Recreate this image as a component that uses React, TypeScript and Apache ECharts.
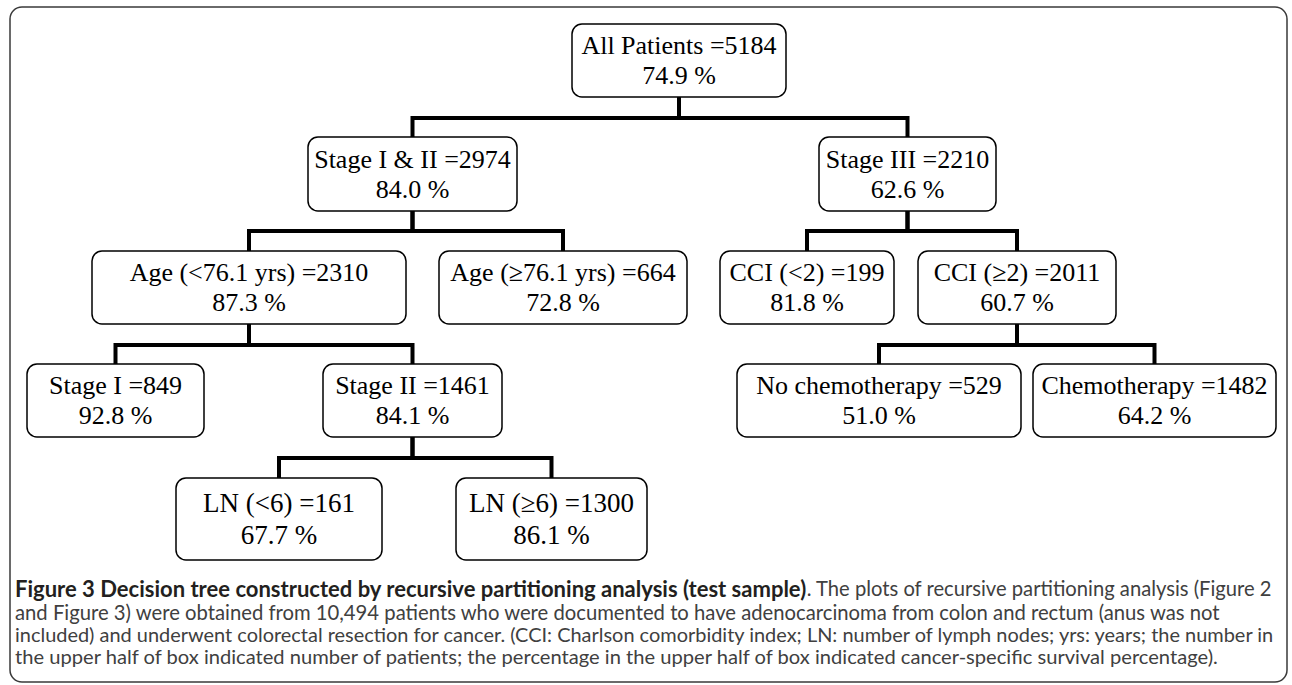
import React, { useEffect, useRef } from "react";
import * as echarts from "echarts";

// ---- data ----
const nodeNames = [
  "All Patients",
  "Stage I & II",
  "Stage III",
  "Age (<76.1 yrs)",
  "Age (≥76.1 yrs)",
  "CCI (<2)",
  "CCI (≥2)",
  "Stage I",
  "Stage II",
  "No chemotherapy",
  "Chemotherapy",
  "LN (<6)",
  "LN (≥6)",
];
const patientCounts = [5184, 2974, 2210, 2310, 664, 199, 2011, 849, 1461, 529, 1482, 161, 1300];
const survivalPct = [74.9, 84.0, 62.6, 87.3, 72.8, 81.8, 60.7, 92.8, 84.1, 51.0, 64.2, 67.7, 86.1];
const parentIndex = [-1, 0, 0, 1, 1, 2, 2, 3, 3, 6, 6, 8, 8];

const captionBold = "Figure 3 Decision tree constructed by recursive partitioning analysis (test sample)";
const captionLines = [
  ". The plots of recursive partitioning analysis (Figure 2",
  "and Figure 3) were obtained from 10,494 patients who were documented to have adenocarcinoma from colon and rectum (anus was not",
  "included) and underwent colorectal resection for cancer. (CCI: Charlson comorbidity index; LN: number of lymph nodes; yrs: years; the number in",
  "the upper half of box indicated number of patients; the percentage in the upper half of box indicated cancer-specific survival percentage).",
];

// ---- layout (pixel-space axis units) ----
const W = 1292;
const H = 685;
const boxLeft = [572, 308, 819, 92, 439, 720, 918, 27, 323, 737, 1033, 176, 456];
const boxRight = [786, 517, 996, 406, 687, 894, 1116, 204, 502, 1021, 1276, 382, 647];
const levelOf = [0, 1, 1, 2, 2, 2, 2, 3, 3, 3, 3, 4, 4];
const levelTop = [24, 137, 251, 364, 478];
const levelBottom = [97, 211, 324, 437, 560];
const connectorY = [118, 231, 345, 458];
const captionX = 15;
const captionLineY = [588, 611.5, 633.8, 656];
const captionFont = "Lato";
const captionBoldWidth = 792;
const captionLineWidths = [466, 1207, 1262, 1207];

function fitSize(text: string, target: number, weight: string, fallback: number) {
  try {
    const ctx = document.createElement("canvas").getContext("2d");
    if (!ctx) return fallback;
    ctx.font = `${weight} 100px "${captionFont}"`;
    const w = ctx.measureText(text).width;
    return w > 0 ? (100 * target) / w : fallback;
  } catch (e) {
    return fallback;
  }
}

export default function App() {
  const ref = useRef<HTMLDivElement>(null);

  useEffect(() => {
    if (!ref.current) return;
    const chart = echarts.init(ref.current, null, { renderer: "svg" });

    const boldSize = fitSize(captionBold, captionBoldWidth, "bold", 18);
    const lineSizes = captionLines.map((l, k) => fitSize(l, captionLineWidths[k], "normal", 18));

    const boxData = nodeNames.map((_, i) => [
      boxLeft[i],
      levelTop[levelOf[i]],
      boxRight[i],
      levelBottom[levelOf[i]],
      i,
    ]);
    const edgeData = nodeNames
      .map((_, i) => i)
      .filter((i) => parentIndex[i] >= 0)
      .map((i) => {
        const p = parentIndex[i];
        return [
          (boxLeft[p] + boxRight[p]) / 2,
          levelBottom[levelOf[p]],
          (boxLeft[i] + boxRight[i]) / 2,
          levelTop[levelOf[i]],
          connectorY[levelOf[p]],
        ];
      });

    const captionGraphics: any[] = captionLines.map((line, k) => ({
      type: "text",
      x: captionX,
      y: captionLineY[k],
      silent: true,
      style:
        k === 0
          ? {
              text: `{b|${captionBold}}{r|${line}}`,
              verticalAlign: "middle",
              lineHeight: 20,
              rich: {
                b: {
                  fontFamily: captionFont,
                  fontSize: boldSize,
                  fontWeight: "bold",
                  fill: "#231f20",
                  lineHeight: 20,
                },
                r: {
                  fontFamily: captionFont,
                  fontSize: lineSizes[0],
                  fill: "#404040",
                  lineHeight: 20,
                },
              },
            }
          : {
              text: line,
              verticalAlign: "middle",
              fontFamily: captionFont,
              fontSize: lineSizes[k],
              lineHeight: 20,
              fill: "#404040",
            },
    }));

    const option: any = {
      animation: false,
      backgroundColor: "#ffffff",
      grid: { left: 0, right: 0, top: 0, bottom: 0 },
      xAxis: { type: "value", min: 0, max: W, show: false },
      yAxis: { type: "value", min: 0, max: H, inverse: true, show: false },
      graphic: [
        {
          type: "rect",
          silent: true,
          shape: { x: 10, y: 7, width: 1277, height: 675, r: 12 },
          style: { fill: "none", stroke: "#3a3a3a", lineWidth: 1.5 },
        },
        ...captionGraphics,
      ],
      series: [
        {
          type: "custom",
          clip: false,
          silent: true,
          encode: { x: [0, 2], y: [1, 3, 4] },
          data: edgeData,
          renderItem: (params: any, api: any) => {
            const a = api.coord([api.value(0), api.value(1)]);
            const m = api.coord([api.value(0), api.value(4)]);
            const b = api.coord([api.value(2), api.value(4)]);
            const c = api.coord([api.value(2), api.value(3)]);
            return {
              type: "polyline",
              shape: { points: [a, m, b, c] },
              style: { stroke: "#000", lineWidth: 4, fill: null, lineJoin: "miter" },
            };
          },
        },
        {
          type: "custom",
          clip: false,
          silent: true,
          encode: { x: [0, 2], y: [1, 3] },
          data: boxData,
          renderItem: (params: any, api: any) => {
            const i = api.value(4);
            const p1 = api.coord([api.value(0), api.value(1)]);
            const p2 = api.coord([api.value(2), api.value(3)]);
            const isLN = levelOf[i] === 4;
            return {
              type: "group",
              children: [
                {
                  type: "rect",
                  shape: {
                    x: p1[0],
                    y: p1[1],
                    width: p2[0] - p1[0],
                    height: p2[1] - p1[1],
                    r: 10,
                  },
                  style: { fill: "#fff", stroke: "#000", lineWidth: 1.5 },
                },
                {
                  type: "text",
                  style: {
                    text: `${nodeNames[i]} =${patientCounts[i]}\n${survivalPct[i].toFixed(1)} %`,
                    x: (p1[0] + p2[0]) / 2,
                    y: (p1[1] + p2[1]) / 2,
                    align: "center",
                    verticalAlign: "middle",
                    fontFamily: '"Liberation Serif", "Times New Roman", serif',
                    fontSize: isLN ? 27 : 26,
                    lineHeight: isLN ? 32 : 30,
                    fill: "#000",
                  },
                },
              ],
            };
          },
        },
      ],
    };

    chart.setOption(option);
    return () => chart.dispose();
  }, []);

  return (
    <div
      ref={ref}
      style={{ position: "absolute", left: 0, top: 0, width: W, height: H, background: "#fff" }}
    />
  );
}
